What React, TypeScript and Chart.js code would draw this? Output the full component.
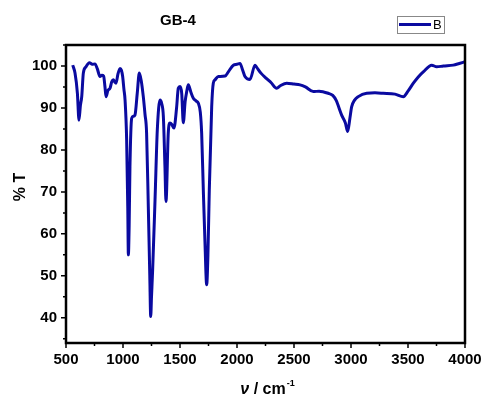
import React, { useEffect, useRef } from "react";
import { Chart, registerables } from "chart.js";

Chart.register(...registerables);

const wavenumbers = [
  559, 579, 600, 614, 626, 638, 652, 675, 705, 730, 754, 775, 798, 815, 830, 842, 851, 868, 886, 902, 915, 928, 939, 955, 974, 986,
  997, 1008, 1018, 1032, 1042, 1047, 1054, 1061, 1076, 1090, 1105, 1125, 1143, 1160, 1178, 1193, 1207, 1222, 1235, 1243, 1250,
  1260, 1281, 1301, 1325, 1339, 1354, 1368, 1377, 1397, 1412, 1430, 1447, 1470, 1485, 1500, 1515, 1529, 1545, 1559, 1573, 1595,
  1617, 1640, 1661, 1678, 1690, 1705, 1719, 1734, 1745, 1757, 1778, 1792, 1807, 1836, 1851, 1895, 1924, 1968, 2000, 2026, 2050,
  2070, 2114, 2158, 2170, 2210, 2260, 2300, 2348, 2380, 2436, 2500, 2553, 2600, 2670, 2720, 2800, 2840, 2870, 2918, 2950, 2971,
  2990, 3006, 3030, 3064, 3138, 3210, 3283, 3386, 3459, 3500, 3547, 3590, 3634, 3708, 3752, 3810, 3897, 3950, 4000,
];

const transmittance = [
  100.2, 98.3, 93.5, 87.1, 90.5, 92.7, 98.3, 99.8, 100.8, 100.4, 100.5, 99.3, 97.5, 97.8, 97.6, 95.0, 92.7, 94.2, 94.7, 96.3, 96.7,
  96.2, 95.9, 98.0, 99.4, 99.0, 97.5, 94.5, 91.9, 82.4, 66.0, 55.0, 62.0, 76.0, 87.5, 88.0, 88.3, 93.5, 98.3, 96.5, 92.7, 88.5,
  84.0, 66.5, 50.0, 40.3, 45.0, 51.4, 68.1, 84.8, 91.9, 91.1, 88.0, 76.0, 67.7, 84.0, 86.4, 86.0, 85.2, 90.0, 94.7, 95.1, 93.5,
  86.5, 91.5, 93.9, 95.5, 93.8, 92.3, 91.7, 91.1, 89.0, 84.0, 70.0, 58.0, 47.9, 55.0, 70.5, 90.3, 95.9, 96.7, 97.5, 97.5, 97.6,
  98.6, 100.2, 100.4, 100.6, 99.0, 97.5, 96.8, 100.2, 99.8, 98.3, 97.0, 96.0, 94.7, 95.3, 95.9, 95.7, 95.5, 95.0, 93.9, 94.0,
  93.5, 93.0, 91.8, 88.3, 86.5, 84.4, 87.5, 90.3, 91.8, 92.7, 93.5, 93.6, 93.5, 93.3, 92.7, 94.0, 95.9, 97.4, 98.6, 100.2, 99.8,
  100.0, 100.2, 100.6, 101.0,
];

const xTickValues = [500, 1000, 1500, 2000, 2500, 3000, 3500, 4000];
const yTickValues = [40, 50, 60, 70, 80, 90, 100];

const titleText = "GB-4";
const seriesName = "B";
const lineColor = "#0A0AA0";
const fontFamily = "'Liberation Sans', Arial, sans-serif";

const decorPlugin = {
  id: "decor",
  afterDraw(chart: any) {
    const { ctx, chartArea } = chart;
    const xs = chart.scales.x;
    const ys = chart.scales.y;
    const { left, right, top, bottom } = chartArea;
    ctx.save();
    ctx.strokeStyle = "#000";
    ctx.lineWidth = 2.5;
    ctx.strokeRect(left, top, right - left, bottom - top);
    ctx.lineWidth = 1.5;
    ctx.beginPath();
    for (let v = 500; v <= 4000; v += 250) {
      const px = xs.getPixelForValue(v);
      const len = v % 500 === 0 ? 5 : 3;
      ctx.moveTo(px, bottom);
      ctx.lineTo(px, bottom + len);
    }
    for (let v = 35; v <= 105; v += 5) {
      const py = ys.getPixelForValue(v);
      const len = v % 10 === 0 ? 5 : 3;
      ctx.moveTo(left, py);
      ctx.lineTo(left - len, py);
    }
    ctx.stroke();

    ctx.fillStyle = "#000";
    ctx.font = `bold 15px ${fontFamily}`;
    ctx.textAlign = "center";
    ctx.textBaseline = "middle";
    ctx.fillText(titleText, 178, 21);

    ctx.save();
    ctx.translate(21, 187);
    ctx.rotate(-Math.PI / 2);
    ctx.font = `bold 16px ${fontFamily}`;
    ctx.fillText("% T", 0, 0);
    ctx.restore();

    ctx.textAlign = "left";
    ctx.textBaseline = "alphabetic";
    const base = 394;
    const partNu = "\u03BD";
    const partRest = " / cm";
    ctx.font = `italic bold 16px ${fontFamily}`;
    const wNu = ctx.measureText(partNu).width;
    ctx.font = `bold 16px ${fontFamily}`;
    const wRest = ctx.measureText(partRest).width;
    ctx.font = `bold 9px ${fontFamily}`;
    const wSup = ctx.measureText("-1").width;
    let x0 = 267 - (wNu + wRest + wSup) / 2;
    ctx.font = `italic bold 16px ${fontFamily}`;
    ctx.fillText(partNu, x0, base);
    x0 += wNu;
    ctx.font = `bold 16px ${fontFamily}`;
    ctx.fillText(partRest, x0, base);
    x0 += wRest;
    ctx.font = `bold 9px ${fontFamily}`;
    ctx.fillText("-1", x0 + 1, base - 8);

    ctx.strokeStyle = "#888";
    ctx.lineWidth = 1;
    ctx.strokeRect(397.5, 16.5, 47, 17);
    ctx.strokeStyle = lineColor;
    ctx.lineWidth = 3;
    ctx.beginPath();
    ctx.moveTo(399, 24.5);
    ctx.lineTo(431, 24.5);
    ctx.stroke();
    ctx.fillStyle = "#000";
    ctx.font = `13px ${fontFamily}`;
    ctx.textBaseline = "middle";
    ctx.fillText(seriesName, 433, 25);
    ctx.restore();
  },
};

export default function App() {
  const ref = useRef<HTMLCanvasElement | null>(null);
  useEffect(() => {
    if (!ref.current) return;
    const data = wavenumbers.map((x, i) => ({ x, y: transmittance[i] }));
    const chart = new Chart(ref.current, {
      type: "line",
      data: {
        datasets: [
          {
            label: seriesName,
            data,
            borderColor: lineColor,
            borderWidth: 3,
            pointRadius: 0,
            cubicInterpolationMode: "monotone",
            fill: false,
          },
        ],
      },
      options: {
        animation: false,
        responsive: false,
        maintainAspectRatio: false,
        layout: { padding: { left: 0, right: 21, top: 45, bottom: 0 } },
        plugins: { legend: { display: false }, title: { display: false }, tooltip: { enabled: false } },
        scales: {
          x: {
            type: "linear",
            min: 500,
            max: 4000,
            grid: { display: false, drawTicks: false, tickLength: 0 },
            border: { display: false },
            afterFit: (s: any) => {
              s.height = 53;
              s.paddingLeft = 0;
              s.paddingRight = 0;
            },
            afterBuildTicks: (s: any) => {
              s.ticks = xTickValues.map((v) => ({ value: v }));
            },
            ticks: {
              padding: 8,
              maxRotation: 0,
              autoSkip: false,
              color: "#000",
              font: { family: fontFamily, size: 15, weight: "bold" },
              callback: (v: any) => String(v),
            },
          },
          y: {
            type: "linear",
            min: 34,
            max: 105,
            grid: { display: false, drawTicks: false, tickLength: 0 },
            border: { display: false },
            afterFit: (s: any) => {
              s.width = 66;
              s.paddingTop = 0;
              s.paddingBottom = 0;
            },
            afterBuildTicks: (s: any) => {
              s.ticks = yTickValues.map((v) => ({ value: v }));
            },
            ticks: {
              padding: 9,
              autoSkip: false,
              color: "#000",
              font: { family: fontFamily, size: 15, weight: "bold" },
              callback: (v: any) => String(v),
            },
          },
        },
      },
      plugins: [decorPlugin],
    });
    return () => chart.destroy();
  }, []);
  return (
    <div style={{ position: "absolute", left: 0, top: 0, width: 486, height: 396, background: "#fff" }}>
      <canvas ref={ref} width={486} height={396} style={{ width: 486, height: 396 }} />
    </div>
  );
}
